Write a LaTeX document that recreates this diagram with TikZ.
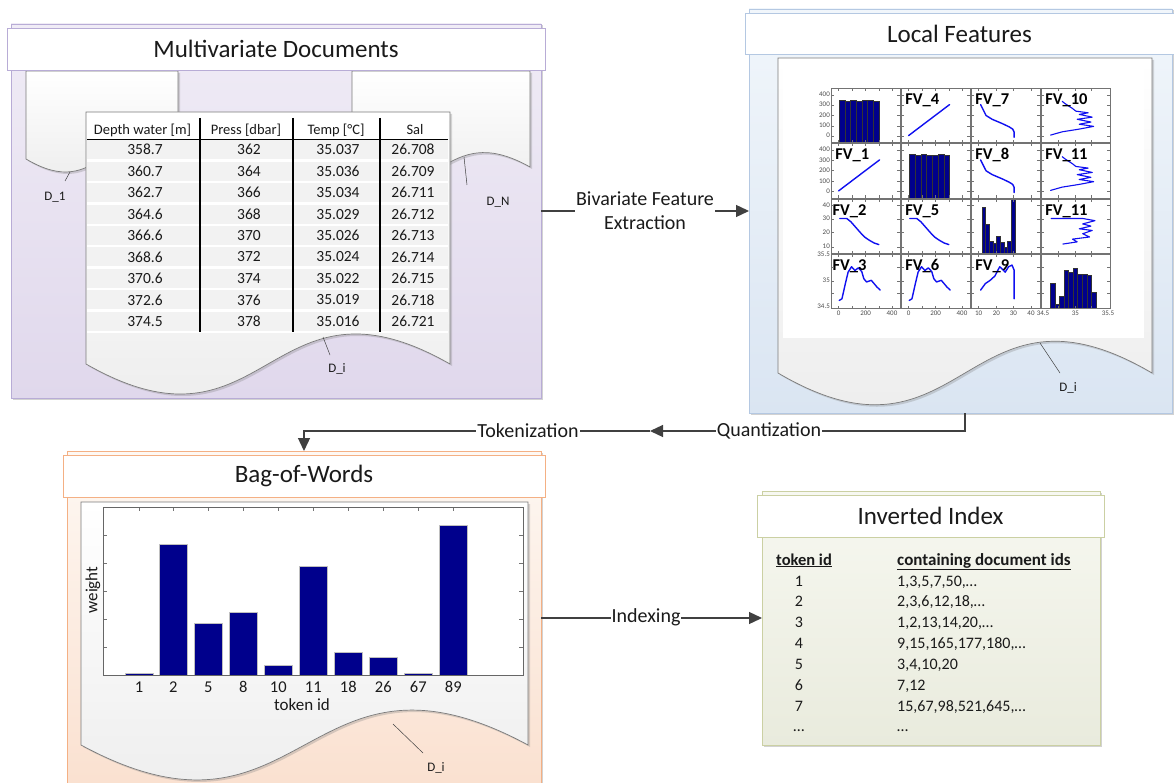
\documentclass[tikz,border=0pt]{standalone}
\usepackage{fontspec}
\setmainfont{Carlito}
\usetikzlibrary{arrows.meta,calc,shadows}
\definecolor{pAborder}{HTML}{B8ACD6}
\definecolor{pAtop}{HTML}{F0ECF6}
\definecolor{pAbot}{HTML}{E0D8EC}
\definecolor{pBborder}{HTML}{B4C8E2}
\definecolor{pBtop}{HTML}{F1F6FB}
\definecolor{pBbot}{HTML}{DAE5F2}
\definecolor{pCborder}{HTML}{F4B084}
\definecolor{pCtop}{HTML}{FEF8F3}
\definecolor{pCbot}{HTML}{FAE0CF}
\definecolor{pDborder}{HTML}{CBD0A3}
\definecolor{pDtop}{HTML}{F7F8F1}
\definecolor{pDbot}{HTML}{E9EBDD}
\definecolor{docborder}{HTML}{7A7A7A}
\definecolor{docbot}{HTML}{EAEAEA}
\definecolor{arrowgray}{HTML}{404040}
\definecolor{barblue}{HTML}{00008C}
\definecolor{ptblue}{HTML}{1010F0}
\definecolor{rowgray}{HTML}{F2F2F2}
\definecolor{txt}{HTML}{1A1A1A}
\newcommand{\myfs}[1]{\fontsize{#1}{#1}\selectfont}
\newcommand{\docpath}[6]{\path[#1] (#2,#3) -- (#4,#3) -- (#4,#5) .. controls ({(#2+#4)/2},{#5-#6}) and ({(#2+#4)/2},{#5+#6}) .. (#2,#5) -- cycle;}
\newcommand{\myhist}[3]{\foreach \hh [count=\ii] in {#3} {\filldraw[barstyle] ({#1+(\ii-1)*#2},0) rectangle ({#1+\ii*#2},\hh);}}
\newcommand{\cellticks}[2]{%
  \foreach \uu in {#1} {\draw[cellframe] (\uu,0) -- (\uu,0.05); \draw[cellframe] (\uu,1) -- (\uu,0.95);}%
  \foreach \vv in {#2} {\draw[cellframe] (0,\vv) -- (0.04,\vv); \draw[cellframe] (1,\vv) -- (0.96,\vv);}}
\newcommand{\incell}[3]{\begin{scope}[shift={({831.7+70*(#1-1)},{142.7+55.3*(#2-1)})},x=68.3pt,y=54.4pt]#3\end{scope}}
\begin{document}
\begin{tikzpicture}[x=1pt,y=-1pt,
  panelbox/.style={inner sep=0pt, outer sep=0pt, anchor=north west, line width=0.8pt,
    drop shadow={shadow xshift=1.5pt, shadow yshift=-1.5pt, opacity=0.35, fill=black!50}},
  titlebox/.style={inner sep=0pt, outer sep=0pt, anchor=north west, fill=white, line width=0.8pt,
    font=\myfs{25}, text=txt, drop shadow={shadow xshift=1pt, shadow yshift=-1pt, opacity=0.25, fill=black!50}},
  docstyle/.style={draw=docborder, line width=0.7pt, top color=white, bottom color=docbot,
    drop shadow={shadow xshift=2pt, shadow yshift=-2pt, opacity=0.3, fill=black!50}},
  ptr/.style={draw=black!75, line width=0.5pt},
  dlab/.style={font=\myfs{13}, text=txt, inner sep=1pt},
  conn/.style={draw=arrowgray, line width=1.3pt},
  arrowtip/.style={-{Triangle[length=13pt,width=12pt]}},
  clab/.style={font=\fontsize{20}{24}\selectfont, text=txt, fill=white, inner sep=1pt, align=center},
  tab/.style={font=\myfs{15.5}, text=txt, inner sep=0pt},
  tabh/.style={font=\myfs{14.5}, text=txt, inner sep=0pt},
  cellframe/.style={draw=black!55, line width=0.6pt},
  datacurve/.style={draw=ptblue, line width=1.4pt, line join=round, line cap=round},
  barstyle/.style={fill=barblue, draw=black!80, line width=0.3pt},
  fvlab/.style={font=\bfseries\myfs{16.5}, text=black, inner sep=0pt, anchor=base west},
  ticklab/.style={font=\myfs{7}, text=black!70, inner sep=0.5pt},
  idx/.style={font=\myfs{16}, text=txt, inner sep=0pt, anchor=base},
  ]
\useasboundingbox (0,0) rectangle (1174,783);
\fill[white] (0,0) rectangle (1174,783);

% ---------------- Panel 1 ----------------
\node[panelbox, draw=pAborder, top color=pAtop, bottom color=pAbot, minimum width=530pt, minimum height=374pt] (p1) at (11,24) {};
\docpath{docstyle}{26}{71}{178}{159}{45}
\docpath{docstyle}{352}{71}{530}{167}{50}
\node[titlebox, draw=pAborder, minimum width=538pt, minimum height=42pt] (t1) at (7,28) {Multivariate Documents};
\docpath{docstyle}{86}{112}{450}{364}{104}
% table
\fill[white] (87,117) rectangle (448,333);
\foreach \a/\b/\c/\d [count=\i] in {358.7/362/35.037/26.708, 360.7/364/35.036/26.709, 362.7/366/35.034/26.711, 364.6/368/35.029/26.712, 366.6/370/35.026/26.713, 368.6/372/35.024/26.714, 370.6/374/35.022/26.715, 372.6/376/35.019/26.718, 374.5/378/35.016/26.721} {
  \fill[rowgray] (87,{139+21.45*(\i-1)+1.2}) rectangle (448,{139+21.45*\i-1.2});
  \node[tab] (ta\i) at (145,{139+21.45*(\i-0.5)}) {\a};
  \node[tab] (tb\i) at (249,{139+21.45*(\i-0.5)}) {\b};
  \node[tab] (tc\i) at (338,{139+21.45*(\i-0.5)}) {\c};
  \node[tab] (td\i) at (413,{139+21.45*(\i-0.5)}) {\d};
}
\node[tabh] (h1) at (142.5,130) {Depth water [m]};
\node[tabh] (h2) at (246,130) {Press [dbar]};
\node[tabh] (h3) at (336,130) {Temp [°C]};
\node[tabh] (h4) at (415,130) {Sal};
\draw[black, line width=1.8pt] (87,139.5) -- (448,139.5);
\foreach \xx in {200,293,380} \draw[black, line width=1.8pt] (\xx,118) -- (\xx,332);
% pointers
\coordinate (d1a) at (70,172); \coordinate (d1b) at (65,181);
\node[dlab] (d1l) at (55,197) {D\_1};
\draw[ptr] (d1a) -- (d1b);
\coordinate (dna) at (464,157); \coordinate (dnb) at (467,185);
\node[dlab] (dnl) at (498,202) {D\_N};
\draw[ptr] (dna) -- (dnb);
\coordinate (dia) at (323,337); \coordinate (dib) at (330,355);
\node[dlab] (dil) at (337,369) {D\_i};
\draw[ptr] (dia) -- (dib);

% ---------------- Panel 2 ----------------
\node[panelbox, draw=pBborder, top color=pBtop, bottom color=pBbot, minimum width=423pt, minimum height=404pt] (p2) at (749,9) {};
\node[titlebox, draw=pBborder, minimum width=429pt, minimum height=41pt] (t2) at (745,13) {Local Features};
\docpath{docstyle}{778}{58}{1152}{373}{110}
\fill[white] (783,62) rectangle (1144,338);
\coordinate (d2a) at (1040,343); \coordinate (d2b) at (1060,373);
\node[dlab] (d2l) at (1068,388) {D\_i};
\draw[ptr] (d2a) -- (d2b);

% scatter matrix cells
\foreach \c in {1,2,3,4} \foreach \r in {1,2,3,4} {
  \incell{\c}{\r}{\fill[white] (0,0) rectangle (1,1);}
}
% row 1
\incell{1}{1}{\myhist{0.11}{0.0829}{0.785,0.765,0.79,0.765,0.775,0.79,0.77}}
\incell{2}{1}{\draw[datacurve] (0.1,0.13) -- (0.7,0.7); \node[fvlab] (fv4) at (0.05,0.7) {FV\_4};}
\incell{3}{1}{\draw[datacurve] (0.13,0.7) -- (0.17,0.6) -- (0.21,0.5) -- (0.3,0.43) -- (0.45,0.35) -- (0.55,0.29) -- (0.6,0.25) -- (0.62,0.2) -- (0.62,0.1); \node[fvlab] (fv7) at (0.05,0.7) {FV\_7};}
\incell{4}{1}{\draw[datacurve, line width=1.1pt] (0.13,0.14) -- (0.3,0.2) -- (0.55,0.25) -- (0.76,0.3) -- (0.55,0.34) -- (0.72,0.38) -- (0.52,0.43) -- (0.74,0.47) -- (0.55,0.52) -- (0.68,0.55) -- (0.5,0.58) -- (0.45,0.63) -- (0.4,0.67) -- (0.34,0.72) -- (0.3,0.76); \node[fvlab] (fv10) at (0.05,0.7) {FV\_10};}
% row 2
\incell{1}{2}{\draw[datacurve] (0.1,0.13) -- (0.7,0.7); \node[fvlab] (fv1) at (0.05,0.7) {FV\_1};}
\incell{2}{2}{\myhist{0.11}{0.0843}{0.8,0.78,0.8,0.78,0.79,0.8,0.79}}
\incell{3}{2}{\draw[datacurve] (0.13,0.7) -- (0.17,0.6) -- (0.21,0.5) -- (0.3,0.43) -- (0.45,0.35) -- (0.55,0.29) -- (0.6,0.25) -- (0.62,0.2) -- (0.62,0.1); \node[fvlab] (fv8) at (0.05,0.7) {FV\_8};}
\incell{4}{2}{\draw[datacurve, line width=1.1pt] (0.13,0.14) -- (0.3,0.2) -- (0.55,0.25) -- (0.76,0.3) -- (0.55,0.34) -- (0.72,0.38) -- (0.52,0.43) -- (0.74,0.47) -- (0.55,0.52) -- (0.68,0.55) -- (0.5,0.58) -- (0.45,0.63) -- (0.4,0.67) -- (0.34,0.72) -- (0.3,0.76); \node[fvlab] (fv11a) at (0.05,0.7) {FV\_11};}
% row 3
\incell{1}{3}{\draw[datacurve] (0.12,0.64) -- (0.22,0.64) -- (0.28,0.58) -- (0.35,0.48) -- (0.42,0.38) -- (0.48,0.3) -- (0.55,0.24) -- (0.62,0.19) -- (0.69,0.16); \node[fvlab] (fv2) at (0.01,0.7) {FV\_2};}
\incell{2}{3}{\draw[datacurve] (0.12,0.64) -- (0.22,0.64) -- (0.28,0.58) -- (0.35,0.48) -- (0.42,0.38) -- (0.48,0.3) -- (0.55,0.24) -- (0.62,0.19) -- (0.69,0.16); \node[fvlab] (fv5) at (0.05,0.7) {FV\_5};}
\incell{3}{3}{\myhist{0.146}{0.0542}{0.85,0.53,0.22,0.19,0.31,0.21,0.11,0.22,0.99}}
\incell{4}{3}{\draw[datacurve, line width=1.1pt] (0.14,0.64) -- (0.6,0.64) -- (0.78,0.6) -- (0.6,0.54) -- (0.72,0.5) -- (0.55,0.45) -- (0.74,0.42) -- (0.6,0.36) -- (0.7,0.3) -- (0.45,0.26) -- (0.52,0.21) -- (0.31,0.17); \node[fvlab] (fv11b) at (0.05,0.7) {FV\_11};}
% row 4
\incell{1}{4}{\draw[datacurve] (0.11,0.15) -- (0.15,0.18) -- (0.2,0.46) -- (0.24,0.67) -- (0.29,0.77) -- (0.34,0.7) -- (0.39,0.75) -- (0.44,0.68) -- (0.47,0.55) -- (0.51,0.49) -- (0.58,0.52) -- (0.66,0.4) -- (0.71,0.34); \node[fvlab] (fv3) at (0.01,0.7) {FV\_3};}
\incell{2}{4}{\draw[datacurve] (0.11,0.15) -- (0.15,0.18) -- (0.2,0.46) -- (0.24,0.67) -- (0.29,0.77) -- (0.34,0.7) -- (0.39,0.75) -- (0.44,0.68) -- (0.47,0.55) -- (0.51,0.49) -- (0.58,0.52) -- (0.66,0.4) -- (0.71,0.34); \node[fvlab] (fv6) at (0.05,0.7) {FV\_6};}
\incell{3}{4}{\draw[datacurve] (0.13,0.34) -- (0.2,0.46) -- (0.27,0.52) -- (0.34,0.6) -- (0.41,0.77) -- (0.49,0.67) -- (0.54,0.77) -- (0.59,0.8) -- (0.62,0.71) -- (0.62,0.46) -- (0.62,0.18); \node[fvlab] (fv9) at (0.05,0.7) {FV\_9};}
\incell{4}{4}{\myhist{0.13}{0.066}{0.46,0.08,0.23,0.7,0.67,0.75,0.64,0.63,0.62,0.31}}
% frames and ticks
\foreach \r in {1,2} {
  \incell{1}{\r}{\draw[cellframe] (0,0) rectangle (1,1); \cellticks{0.1,0.3,0.49,0.69,0.89}{0.12,0.31,0.5,0.69,0.88}}
  \incell{2}{\r}{\draw[cellframe] (0,0) rectangle (1,1); \cellticks{0.1,0.3,0.49,0.69,0.89}{0.12,0.31,0.5,0.69,0.88}}
  \incell{3}{\r}{\draw[cellframe] (0,0) rectangle (1,1); \cellticks{0.1,0.36,0.61,0.87}{0.12,0.31,0.5,0.69,0.88}}
  \incell{4}{\r}{\draw[cellframe] (0,0) rectangle (1,1); \cellticks{0.25,0.49,0.73}{0.12,0.31,0.5,0.69,0.88}}
}
\incell{1}{3}{\draw[cellframe] (0,0) rectangle (1,1); \cellticks{0.1,0.3,0.49,0.69,0.89}{0.11,0.38,0.63,0.88}}
\incell{2}{3}{\draw[cellframe] (0,0) rectangle (1,1); \cellticks{0.1,0.3,0.49,0.69,0.89}{0.11,0.38,0.63,0.88}}
\incell{3}{3}{\draw[cellframe] (0,0) rectangle (1,1); \cellticks{0.1,0.36,0.61,0.87}{0.11,0.38,0.63,0.88}}
\incell{4}{3}{\draw[cellframe] (0,0) rectangle (1,1); \cellticks{0.25,0.49,0.73}{0.11,0.38,0.63,0.88}}
\incell{1}{4}{\draw[cellframe] (0,0) rectangle (1,1); \cellticks{0.1,0.3,0.49,0.69,0.89}{0.28,0.51,0.75}}
\incell{2}{4}{\draw[cellframe] (0,0) rectangle (1,1); \cellticks{0.1,0.3,0.49,0.69,0.89}{0.28,0.51,0.75}}
\incell{3}{4}{\draw[cellframe] (0,0) rectangle (1,1); \cellticks{0.1,0.36,0.61,0.87}{0.28,0.51,0.75}}
\incell{4}{4}{\draw[cellframe] (0,0) rectangle (1,1); \cellticks{0.25,0.49,0.73}{0.28,0.51,0.75}}
% tick labels
\foreach \yy/\ll [count=\i] in {94.3/400,104.7/300,115/200,125.3/100,135.7/0,149.7/400,160.1/300,170.5/200,180.9/100,191.3/0,205/40,218.7/30,232.3/20,246.7/10,254.7/35.5,280.3/35,306/34.5}
  \node[ticklab, anchor=east] (yl\i) at (830.5,\yy) {\ll};
\foreach \xx/\ll [count=\i] in {838.7/0,865.7/200,892/400,908.7/0,935.7/200,962/400,978.7/10,996.3/20,1013.3/30,1031/40,1043/34.5,1075.3/35,1108/35.5}
  \node[ticklab] (xl\i) at (\xx,313.5) {\ll};

% ---------------- Panel 3 ----------------
\node[panelbox, draw=pCborder, top color=pCtop, bottom color=pCbot, minimum width=474pt, minimum height=345pt] (p3) at (67,451) {};
\node[titlebox, draw=pCborder, minimum width=482pt, minimum height=42pt] (t3) at (63,455) {Bag-of-Words};
\docpath{docstyle}{81}{502}{528}{745}{121}
\fill[white] (103,507) rectangle (523,675);
\foreach \xc/\yt/\ll [count=\i] in {139/672.7/1, 173.3/544/2, 208.3/623/5, 243.3/611.7/8, 278.3/665/10, 313.3/565.7/11, 348.3/652.3/18, 383.3/657.3/26, 418.3/672.7/67, 453.3/525/89} {
  \filldraw[fill=barblue, draw=black!25, line width=0.4pt] ({\xc-14},675) rectangle ({\xc+14},\yt);
  \draw[black!55, line width=0.5pt] (\xc,507) -- ++(0,4);
  \node[font=\myfs{16.5}, text=txt, inner sep=0pt] (bl\i) at (\xc,687) {\ll};
}
\foreach \yy in {647.3,619.3,591,563.3,535.3} {
  \draw[black!55, line width=0.5pt] (103,\yy) -- ++(4,0);
  \draw[black!55, line width=0.5pt] (523,\yy) -- ++(-4,0);
}
\draw[black!60, line width=0.7pt] (103,507) rectangle (523,675);
\node[font=\myfs{17}, text=txt, inner sep=0pt] (bx) at (302,705) {token id};
\node[font=\myfs{17}, text=txt, inner sep=0pt, rotate=90] (by) at (93,590) {weight};
\coordinate (d3a) at (393,724); \coordinate (d3b) at (423,753);
\node[dlab] (d3l) at (436,768) {D\_i};
\draw[ptr] (d3a) -- (d3b);

% ---------------- Panel 4 ----------------
\node[panelbox, draw=pDborder, top color=pDtop, bottom color=pDbot, minimum width=338pt, minimum height=254pt] (p4) at (762,491) {};
\node[titlebox, draw=pDborder, minimum width=347pt, minimum height=42pt] (t4) at (757,495) {Inverted Index};
\node[font=\bfseries\myfs{16.5}, text=txt, inner sep=0pt, anchor=base west] (ih1) at (776,565) {\underline{token id}};
\node[font=\bfseries\myfs{17}, text=txt, inner sep=0pt, anchor=base west] (ih2) at (897,565) {\underline{containing document ids}};
\foreach \tk/\ids [count=\i] in {1/{1,3,5,7,50,…}, 2/{2,3,6,12,18,…}, 3/{1,2,13,14,20,…}, 4/{9,15,165,177,180,…}, 5/{3,4,10,20}, 6/{7,12}, 7/{15,67,98,521,645,…}, …/…} {
  \node[idx] (ik\i) at (799,{586+20.85*(\i-1)}) {\tk};
  \node[idx, anchor=base west] (iv\i) at (897,{586+20.85*(\i-1)}) {\ids};
}

% ---------------- Connectors ----------------
\draw[conn, arrowtip] (p1.east) -- (p2.west);
\node[clab] (l1) at ($(p1.east)!0.5!(p2.west)$) {Bivariate Feature\\Extraction};
\coordinate (qm) at (650,431);
\draw[conn, arrowtip] ([xshift=4.5pt]p2.south) |- (qm);
\draw[conn, arrowtip] (qm) -| (p3.north);
\node[clab] (lq) at (769,431) {Quantization};
\node[clab] (lt) at (528,431) {Tokenization};
\draw[conn, arrowtip] (p4.west -| p3.east) -- (p4.west);
\node[clab] (li) at (646,617) {Indexing};
\end{tikzpicture}
\end{document}
